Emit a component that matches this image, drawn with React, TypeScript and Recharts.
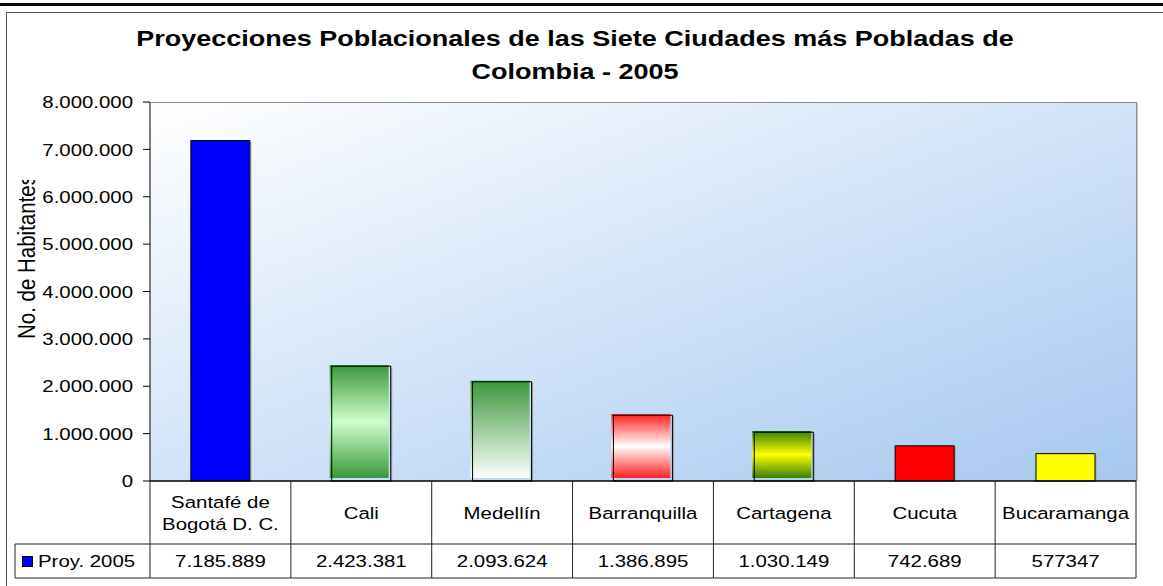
import React from "react";
import { BarChart, Bar, XAxis, YAxis, CartesianGrid } from "recharts";

// ---- data ----
const cities = [
  "Santafé de Bogotá D. C.",
  "Cali",
  "Medellín",
  "Barranquilla",
  "Cartagena",
  "Cucuta",
  "Bucaramanga",
];
const proy2005 = [7185889, 2423381, 2093624, 1386895, 1030149, 742689, 577347];
const tableLabels = [
  "7.185.889",
  "2.423.381",
  "2.093.624",
  "1.386.895",
  "1.030.149",
  "742.689",
  "577347",
];
const yTicks = [0, 1000000, 2000000, 3000000, 4000000, 5000000, 6000000, 7000000, 8000000];
const seriesName = "Proy. 2005";
const titleLines = [
  "Proyecciones Poblacionales de las Siete Ciudades más Pobladas de",
  "Colombia - 2005",
];
const yAxisTitle = "No. de Habitantes";

const data = cities.map((city, i) => ({ city, value: proy2005[i] }));

// ---- layout / style ----
const W = 1163;
const H = 586;
const PLOT = { left: 150, top: 102, right: 1136, bottom: 481 };
const ROW_DIV = 544;
const TABLE_BOTTOM = 578;
const LEGEND_LEFT = 15;
const FONT = "'Liberation Sans', Arial, sans-serif";
const SX = 1.2;

type BarStyle = { kind: "solid" | "grad"; fill: string; top?: string };
const barStyles: BarStyle[] = [
  { kind: "solid", fill: "#0000ff" },
  { kind: "grad", fill: "url(#gCali)", top: "#3a983a" },
  { kind: "grad", fill: "url(#gMed)", top: "#3a983a" },
  { kind: "grad", fill: "url(#gBarr)", top: "#ff1a1a" },
  { kind: "grad", fill: "url(#gCart)", top: "#007a00" },
  { kind: "solid", fill: "#ff0000" },
  { kind: "solid", fill: "#ffff00" },
];

const fmt = (v: number) => String(v).replace(/\B(?=(\d{3})+(?!\d))/g, ".");

const wrap = (s: string, max = 13) => {
  const words = s.split(" ");
  const lines: string[] = [];
  let cur = "";
  for (const w of words) {
    const next = cur ? cur + " " + w : w;
    if (next.length > max && cur) {
      lines.push(cur);
      cur = w;
    } else cur = next;
  }
  if (cur) lines.push(cur);
  return lines;
};

const BarShape = (p: any) => {
  const { x, y, width, height, index } = p;
  const st = barStyles[index] || barStyles[0];
  if (st.kind === "solid") {
    return (
      <g>
        <line x1={x + width + 1} y1={y + 1} x2={x + width + 1} y2={y + height} stroke="#9a9a9a" strokeWidth={1} />
        <rect x={x} y={y} width={width} height={height} fill={st.fill} stroke="#000" strokeWidth={1} />
      </g>
    );
  }
  return (
    <g>
      <rect x={x - 2} y={y - 1} width={width} height={height - 2} fill={st.fill} />
      <rect x={x - 2} y={y - 1} width={width} height={1.5} fill={st.top} />
      <line x1={x + width + 1} y1={y + 1} x2={x + width + 1} y2={y + height} stroke="#9a9a9a" strokeWidth={1} />
      <rect x={x} y={y} width={width} height={height} fill="none" stroke="#000" strokeWidth={1} />
    </g>
  );
};

const YTick = (p: any) => {
  const { x, y, payload } = p;
  return (
    <text
      transform={`translate(${x},${y}) scale(${SX},1)`}
      textAnchor="end"
      dy="0.36em"
      fontSize={17}
      fontFamily={FONT}
      fill="#000"
    >
      {fmt(payload.value)}
    </text>
  );
};

const XTick = (p: any) => {
  const { x, payload } = p;
  const idx = payload.index ?? p.index ?? 0;
  const lines = wrap(String(payload.value));
  const center = (PLOT.bottom + ROW_DIV) / 2;
  const lh = 22;
  const startY = center - ((lines.length - 1) * lh) / 2;
  return (
    <g>
      {lines.map((l, i) => (
        <text
          key={i}
          transform={`translate(${x},${startY + i * lh}) scale(${SX},1)`}
          textAnchor="middle"
          dy="0.36em"
          fontSize={17}
          fontFamily={FONT}
          fill="#000"
        >
          {l}
        </text>
      ))}
      <text
        transform={`translate(${x},${(ROW_DIV + TABLE_BOTTOM) / 2}) scale(${SX},1)`}
        textAnchor="middle"
        dy="0.36em"
        fontSize={17}
        fontFamily={FONT}
        fill="#000"
      >
        {tableLabels[idx]}
      </text>
    </g>
  );
};

export default function App() {
  const cw = (PLOT.right - PLOT.left) / cities.length;
  const vLines = Array.from({ length: cities.length + 1 }, (_, i) => PLOT.left + i * cw);
  return (
    <div style={{ position: "absolute", left: 0, top: 0, width: W, height: H, background: "#fff" }}>
      {/* frame and title (under the chart) */}
      <svg width={W} height={H} style={{ position: "absolute", left: 0, top: 0 }}>
        <rect x={0} y={3} width={W} height={3} fill="#000" />
        <rect x={6.5} y={12.5} width={W + 10} height={H + 10} fill="#fff" stroke="#555" strokeWidth={1} />
        {titleLines.map((t, i) => (
          <text
            key={i}
            transform={`translate(575,${46 + i * 33}) scale(${SX},1)`}
            textAnchor="middle"
            fontSize={22.5}
            fontWeight="bold"
            fontFamily={FONT}
            fill="#000"
          >
            {t}
          </text>
        ))}
      </svg>
      <div style={{ position: "absolute", left: 0, top: 0 }}>
        <BarChart
          width={W}
          height={H}
          data={data}
          margin={{ top: PLOT.top, right: W - PLOT.right, bottom: 0, left: 0 }}
          barCategoryGap="29%"
        >
          <defs>
            <linearGradient id="plotBg" x1="0" y1="0" x2="1" y2="1">
              <stop offset="0%" stopColor="#ffffff" />
              <stop offset="100%" stopColor="#a6c8ef" />
            </linearGradient>
            <linearGradient id="gCali" x1="0" y1="0" x2="0" y2="1">
              <stop offset="0%" stopColor="#3a983a" />
              <stop offset="50%" stopColor="#ccffcc" />
              <stop offset="100%" stopColor="#3a983a" />
            </linearGradient>
            <linearGradient id="gMed" x1="0" y1="0" x2="0" y2="1">
              <stop offset="0%" stopColor="#3a983a" />
              <stop offset="100%" stopColor="#ffffff" />
            </linearGradient>
            <linearGradient id="gBarr" x1="0" y1="0" x2="0" y2="1">
              <stop offset="0%" stopColor="#ff2020" />
              <stop offset="50%" stopColor="#ffffff" />
              <stop offset="100%" stopColor="#ff2020" />
            </linearGradient>
            <linearGradient id="gCart" x1="0" y1="0" x2="0" y2="1">
              <stop offset="0%" stopColor="#3a8000" />
              <stop offset="50%" stopColor="#ffff00" />
              <stop offset="100%" stopColor="#3a8000" />
            </linearGradient>
          </defs>
          <CartesianGrid horizontal={false} vertical={false} fill="url(#plotBg)" stroke="none" />
          <XAxis
            dataKey="city"
            height={H - PLOT.bottom}
            interval={0}
            tickLine={false}
            axisLine={{ stroke: "#000", strokeWidth: 1.5 }}
            tick={<XTick />}
          />
          <YAxis
            width={PLOT.left}
            domain={[0, 8000000]}
            ticks={yTicks}
            interval={0}
            tickSize={7}
            tickMargin={10}
            tickLine={{ stroke: "#000" }}
            axisLine={{ stroke: "#000" }}
            tick={<YTick />}
          />
          <Bar dataKey="value" name={seriesName} isAnimationActive={false} shape={(p: any) => <BarShape {...p} />} />
        </BarChart>
      </div>
      {/* table grid, legend key, plot border, axis title (over the chart) */}
      <svg width={W} height={H} style={{ position: "absolute", left: 0, top: 0, pointerEvents: "none" }}>
        <line x1={PLOT.left} y1={PLOT.top + 0.5} x2={PLOT.right} y2={PLOT.top + 0.5} stroke="#8c8c8c" />
        <line x1={PLOT.right + 0.5} y1={PLOT.top} x2={PLOT.right + 0.5} y2={PLOT.bottom} stroke="#8c8c8c" />
        <line x1={PLOT.right + 1.5} y1={PLOT.top + 1} x2={PLOT.right + 1.5} y2={PLOT.bottom} stroke="#c8c8c8" />
        {vLines.map((vx, i) => (
          <line key={i} x1={vx} y1={PLOT.bottom} x2={vx} y2={TABLE_BOTTOM} stroke="#222" strokeWidth={1} />
        ))}
        <line x1={LEGEND_LEFT} y1={ROW_DIV} x2={PLOT.right} y2={ROW_DIV} stroke="#222" />
        <line x1={LEGEND_LEFT} y1={TABLE_BOTTOM} x2={PLOT.right} y2={TABLE_BOTTOM} stroke="#222" />
        <line x1={LEGEND_LEFT} y1={ROW_DIV} x2={LEGEND_LEFT} y2={TABLE_BOTTOM} stroke="#222" />
        <rect x={22.5} y={556.5} width={10} height={10} fill="#0000ff" stroke="#000" />
        <text
          transform={`translate(38,${(ROW_DIV + TABLE_BOTTOM) / 2}) scale(${SX},1)`}
          dy="0.36em"
          fontSize={17}
          fontFamily={FONT}
          fill="#000"
        >
          {seriesName}
        </text>
        <defs>
          <clipPath id="yTitleClip">
            <rect x={0} y={180} width={80} height={300} />
          </clipPath>
        </defs>
        <g clipPath="url(#yTitleClip)">
          <text
            transform={`translate(35,339) scale(${SX},1) rotate(-90)`}
            fontSize={20.5}
            fontFamily={FONT}
            fill="#000"
          >
            {yAxisTitle}
          </text>
        </g>
      </svg>
    </div>
  );
}
